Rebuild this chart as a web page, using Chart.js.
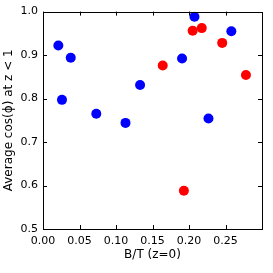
<!DOCTYPE html>
<html><head><meta charset="utf-8">
<script src="https://cdn.jsdelivr.net/npm/chart.js@4/dist/chart.umd.min.js"></script>
<style>html,body{margin:0;padding:0;background:#fff}#w{width:273px;height:273px}</style>
</head><body><div id="w"><canvas id="c" width="273" height="273"></canvas></div>
<script>
const blueX = [0.021, 0.026, 0.038, 0.073, 0.113, 0.133, 0.1905, 0.2075, 0.2267, 0.258];
const blueY = [0.922, 0.797, 0.894, 0.765, 0.744, 0.831, 0.892, 0.988, 0.754, 0.955];
const redX = [0.164, 0.205, 0.2175, 0.2455, 0.278, 0.193];
const redY = [0.876, 0.956, 0.962, 0.928, 0.854, 0.588];
const xTicks = [0.00, 0.05, 0.10, 0.15, 0.20, 0.25];
const yTicks = [0.5, 0.6, 0.7, 0.8, 0.9, 1.0];
const xTitle = 'B/T (z=0)';
const yTitle = 'Average cos(\u03D5) at z < 1';

const FONT = 'DejaVu Sans';
const pts = (xs, ys) => xs.map((x, i) => ({x, y: ys[i]}));

const frame = {
  id: 'frame',
  afterDraw(chart) {
    const {ctx, chartArea: a, scales: {x, y}} = chart;
    ctx.save();
    ctx.strokeStyle = '#000';
    ctx.lineWidth = 1;
    const L = 4;
    ctx.beginPath();
    xTicks.forEach(v => {
      const px = Math.round(x.getPixelForValue(v)) + 0.5;
      ctx.moveTo(px, a.bottom); ctx.lineTo(px, a.bottom - L);
      ctx.moveTo(px, a.top); ctx.lineTo(px, a.top + L);
    });
    yTicks.forEach(v => {
      const py = Math.round(y.getPixelForValue(v)) + 0.5;
      ctx.moveTo(a.left, py); ctx.lineTo(a.left + L, py);
      ctx.moveTo(a.right, py); ctx.lineTo(a.right - L, py);
    });
    ctx.stroke();
    ctx.strokeRect(Math.round(a.left) + 0.5, Math.round(a.top) + 0.5,
      Math.round(a.right - a.left), Math.round(a.bottom - a.top));
    ctx.restore();
  }
};

new Chart(document.getElementById('c'), {
  type: 'scatter',
  data: {
    datasets: [
      {data: pts(blueX, blueY), backgroundColor: '#0000ff', borderWidth: 0, pointRadius: 5, pointHoverRadius: 5},
      {data: pts(redX, redY), backgroundColor: '#ff0000', borderWidth: 0, pointRadius: 5, pointHoverRadius: 5}
    ]
  },
  options: {
    responsive: false,
    animation: false,
    events: [],
    layout: {padding: {left: 2, top: 10, right: 11, bottom: 11}},
    plugins: {legend: {display: false}, tooltip: {enabled: false}},
    scales: {
      x: {
        type: 'linear', min: 0, max: 0.3,
        afterBuildTicks: s => { s.ticks = xTicks.map(v => ({value: v})); },
        afterFit: s => { s.height = 33; },
        grid: {display: false, drawTicks: false},
        border: {display: false},
        ticks: {color: '#000', padding: 6, font: {family: FONT, size: 11}, maxRotation: 0,
          callback: v => v.toFixed(2)},
        title: {display: true, text: xTitle, color: '#000', font: {family: FONT, size: 12}, padding: {top: 0, bottom: 0}}
      },
      y: {
        min: 0.5, max: 1.0,
        afterBuildTicks: s => { s.ticks = yTicks.map(v => ({value: v})); },
        afterFit: s => { s.width = 41; },
        grid: {display: false, drawTicks: false},
        border: {display: false},
        ticks: {color: '#000', padding: 5, font: {family: FONT, size: 11},
          callback: v => v.toFixed(1)},
        title: {display: true, text: yTitle, color: '#000', font: {family: FONT, size: 12}, padding: {top: 0, bottom: 0}}
      }
    }
  },
  plugins: [frame]
});
</script>
</body></html>
